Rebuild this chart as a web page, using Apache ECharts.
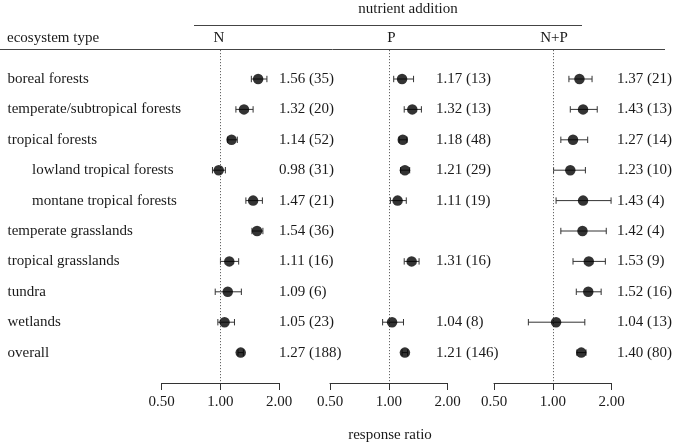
<!DOCTYPE html>
<html>
<head>
<meta charset="utf-8">
<script src="https://cdn.jsdelivr.net/npm/echarts@6/dist/echarts.min.js"></script>
<style>html,body{margin:0;padding:0;background:#fff;}#c{width:673px;height:443px;}</style>
</head>
<body>
<div id="c"></div>
<script>
const categories = ['boreal forests','temperate/subtropical forests','tropical forests','lowland tropical forests','montane tropical forests','temperate grasslands','tropical grasslands','tundra','wetlands','overall'];
const subCategory = [false,false,false,true,true,false,false,false,false,false];
const panelNames = ['N','P','N+P'];
const tickValues = [0.5, 1, 2];
const tickLabels = ['0.50','1.00','2.00'];

const nMean = [1.56,1.32,1.14,0.98,1.47,1.54,1.11,1.09,1.05,1.27];
const nCount = [35,20,52,31,21,36,16,6,23,188];
const nLow = [1.44,1.20,1.09,0.91,1.35,1.45,1.00,0.94,0.97,1.23];
const nHigh = [1.73,1.47,1.22,1.06,1.64,1.65,1.24,1.28,1.18,1.31];

const pMean = [1.17,1.32,1.18,1.21,1.11,null,1.31,null,1.04,1.21];
const pCount = [13,13,48,29,19,null,16,null,8,146];
const pLow = [1.06,1.20,1.13,1.15,1.02,null,1.20,null,0.93,1.17];
const pHigh = [1.34,1.47,1.24,1.28,1.23,null,1.43,null,1.19,1.25];

const npMean = [1.37,1.43,1.27,1.23,1.43,1.42,1.53,1.52,1.04,1.40];
const npCount = [21,13,14,10,4,4,9,16,13,80];
const npLow = [1.21,1.23,1.10,1.01,1.04,1.10,1.27,1.32,0.75,1.33];
const npHigh = [1.59,1.69,1.51,1.47,1.99,1.88,1.86,1.77,1.46,1.48];

const panels = [
  {mean:nMean, count:nCount, low:nLow, high:nHigh},
  {mean:pMean, count:pCount, low:pLow, high:pHigh},
  {mean:npMean, count:npCount, low:npLow, high:npHigh}
];

// layout (pixels)
const FONT = '15px "Liberation Serif", "Times New Roman", serif';
const TXT = '#1a1a1a';
const gridLefts = [161.7, 330, 494];
const gridW = 117.5;
const labelX = [279, 436, 617];
const gridTop = 50, gridBottom = 443 - 383;

const option = {
  animation: false,
  backgroundColor: '#fff',
  textStyle: {fontFamily: '"Liberation Serif", serif'},
  grid: gridLefts.map(l => ({left: l, width: gridW, top: gridTop, bottom: gridBottom, containLabel: false, outerBoundsMode: 'none'})),
  xAxis: panels.map((p, k) => ({
    type: 'log', logBase: 2, min: 0.5, max: 2, gridIndex: k,
    axisLine: {show: true, onZero: false, lineStyle: {color: '#333', width: 1}},
    axisTick: {show: true, length: 7, lineStyle: {color: '#333'}, customValues: tickValues},
    axisLabel: {customValues: tickValues, margin: 12, color: TXT, fontSize: 15, fontFamily: '"Liberation Serif", serif',
      formatter: v => { const i = tickValues.findIndex(t => Math.abs(t - v) < 1e-6); return i >= 0 ? tickLabels[i] : ''; }},
    splitLine: {show: false}
  })),
  yAxis: panels.map((p, k) => ({
    type: 'value', gridIndex: k, min: -0.954, max: 10, inverse: true, show: false
  })),
  graphic: [
    {type: 'text', style: {text: 'nutrient addition', x: 408, y: 9, font: FONT, fill: TXT, align: 'center', verticalAlign: 'middle'}},
    {type: 'line', shape: {x1: 194, y1: 25.5, x2: 582, y2: 25.5}, style: {stroke: '#444', lineWidth: 1}},
    {type: 'line', shape: {x1: 0, y1: 49.5, x2: 665, y2: 49.5}, style: {stroke: '#444', lineWidth: 1}},
    {type: 'text', style: {text: 'ecosystem type', x: 7, y: 38, font: FONT, fill: TXT, align: 'left', verticalAlign: 'middle'}},
    {type: 'text', style: {text: panelNames[0], x: 219, y: 38, font: FONT, fill: TXT, align: 'center', verticalAlign: 'middle'}},
    {type: 'text', style: {text: panelNames[1], x: 391.5, y: 38, font: FONT, fill: TXT, align: 'center', verticalAlign: 'middle'}},
    {type: 'text', style: {text: panelNames[2], x: 554, y: 38, font: FONT, fill: TXT, align: 'center', verticalAlign: 'middle'}},
    {type: 'text', style: {text: 'response ratio', x: 390, y: 435, font: FONT, fill: TXT, align: 'center', verticalAlign: 'middle'}}
  ],
  series: []
};

panels.forEach((p, k) => {
  const ebData = [], ptData = [], lbData = [];
  p.mean.forEach((m, i) => {
    if (m == null) return;
    ebData.push([p.low[i], p.high[i], i]);
    ptData.push([m, i]);
    lbData.push([m, i, p.count[i]]);
  });
  // error bars
  option.series.push({
    type: 'custom', xAxisIndex: k, yAxisIndex: k, data: ebData, encode: {x: [0, 1], y: 2}, silent: true,
    renderItem: (params, api) => {
      const a = api.coord([api.value(0), api.value(2)]);
      const b = api.coord([api.value(1), api.value(2)]);
      const h = 3.2;
      const st = {stroke: '#333', lineWidth: 1};
      return {type: 'group', children: [
        {type: 'line', shape: {x1: a[0], y1: a[1], x2: b[0], y2: b[1]}, style: st},
        {type: 'line', shape: {x1: a[0], y1: a[1] - h, x2: a[0], y2: a[1] + h}, style: st},
        {type: 'line', shape: {x1: b[0], y1: b[1] - h, x2: b[0], y2: b[1] + h}, style: st}
      ]};
    }
  });
  // points + reference line
  option.series.push({
    type: 'scatter', xAxisIndex: k, yAxisIndex: k, data: ptData, symbol: 'circle', symbolSize: 10.5,
    itemStyle: {color: '#000'}, z: 5, silent: true,
    markLine: {silent: true, symbol: ['none', 'none'], label: {show: false},
      lineStyle: {type: [1.2, 1.8], color: '#666', width: 1}, data: [{xAxis: 1}]}
  });
  // value labels
  option.series.push({
    type: 'custom', xAxisIndex: k, yAxisIndex: k, data: lbData, encode: {x: 0, y: 1}, silent: true,
    renderItem: (params, api) => {
      const c = api.coord([1, api.value(1)]);
      const m = api.value(0), n = api.value(2);
      return {type: 'text', style: {text: m.toFixed(2) + ' (' + n + ')', x: labelX[k], y: c[1], font: FONT, fill: TXT, align: 'left', verticalAlign: 'middle'}};
    }
  });
});

// category labels
option.series.push({
  type: 'custom', xAxisIndex: 0, yAxisIndex: 0, data: categories.map((c, i) => [1, i]), encode: {x: 0, y: 1}, silent: true,
  renderItem: (params, api) => {
    const i = params.dataIndex;
    const c = api.coord([1, api.value(1)]);
    return {type: 'text', style: {text: categories[i], x: subCategory[i] ? 32 : 7.5, y: c[1], font: FONT, fill: TXT, align: 'left', verticalAlign: 'middle'}};
  }
});

const chart = echarts.init(document.getElementById('c'), null, {renderer: 'canvas'});
chart.setOption(option);
</script>
</body>
</html>
